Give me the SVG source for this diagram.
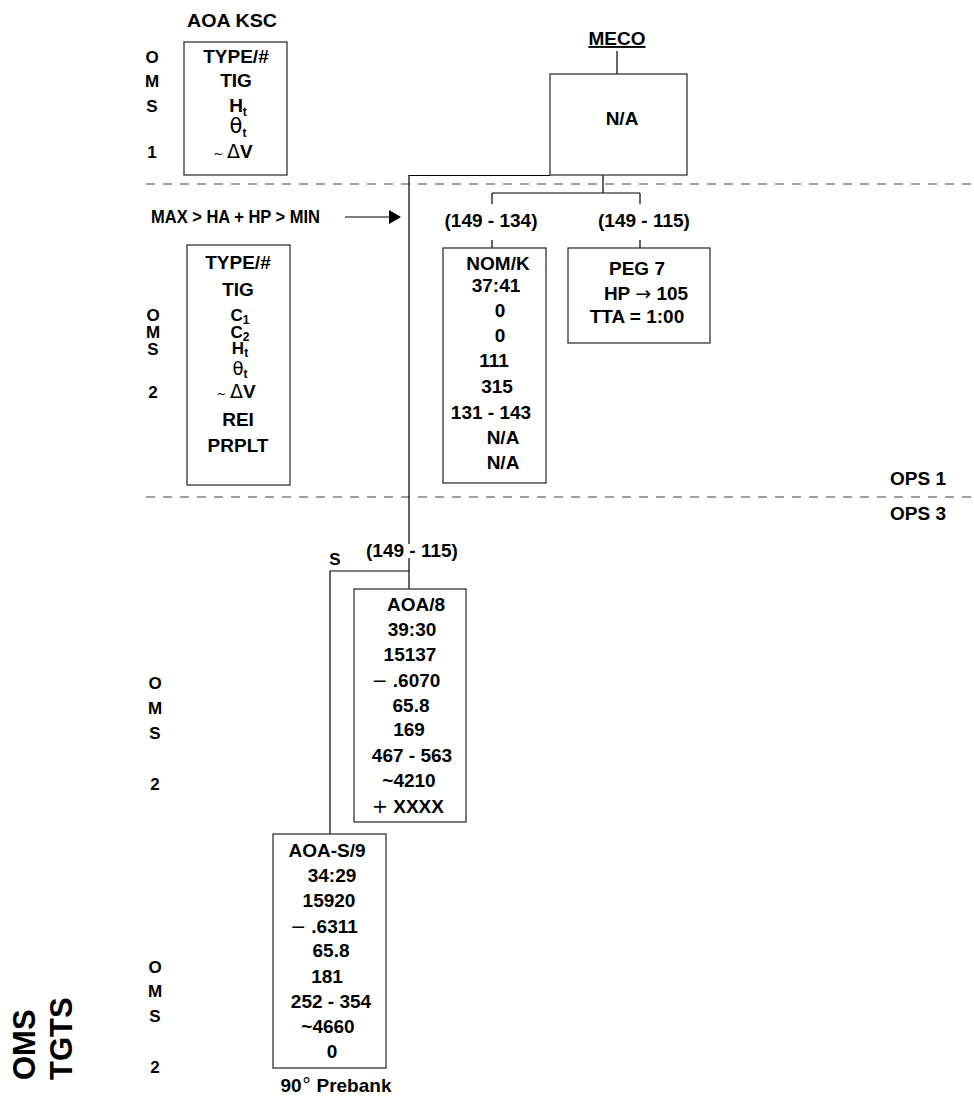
<svg xmlns="http://www.w3.org/2000/svg" width="974" height="1100" viewBox="0 0 974 1100">
<style>
text{font-family:"Liberation Sans",Arial,sans-serif;font-weight:bold;font-size:19px;fill:#000;text-anchor:middle}
.l{text-anchor:start}
.side{font-size:17px}
.tight{font-size:17px}
.box{fill:#fff;stroke:#333;stroke-width:1.3}
.con{fill:none;stroke:#000;stroke-width:1.2}
.dash{fill:none;stroke:#808080;stroke-width:1.5;stroke-dasharray:9 8}
.sym{font-weight:normal;font-family:"DejaVu Sans",sans-serif}
.sub{font-size:12px}
.big{font-size:31px}
</style>
<defs>
<marker id="ah" markerWidth="12" markerHeight="14" refX="11" refY="7" orient="auto" markerUnits="userSpaceOnUse">
<path d="M0,0 L12,7 L0,14 Z" fill="#000"/>
</marker>
</defs>

<g id="separators">
<line class="dash" x1="146" y1="184" x2="974" y2="184"/>
<line class="dash" x1="146" y1="497" x2="974" y2="497"/>
</g>

<g id="connectors">
<path class="con" d="M617,51 V74"/>
<path class="con" d="M550,175.5 H409 V544"/>
<path class="con" d="M603,175 V193 M492,193 H640 M492,193 V204 M640,193 V204 M492,240 V248 M640,240 V248"/>
<path class="con" d="M409,558 V589 M409,571 H330 V834"/>
<path class="con" d="M345,217 H400" marker-end="url(#ah)"/>
</g>

<g id="labels">
<text x="232" y="27" font-size="20" textLength="90" lengthAdjust="spacingAndGlyphs">AOA KSC</text>
<text x="617" y="45" text-decoration="underline">MECO</text>
<text class="l" x="151" y="223" textLength="169" lengthAdjust="spacingAndGlyphs">MAX &gt; HA + HP &gt; MIN</text>
<text x="491" y="227">(149 - 134)</text>
<text x="644" y="227">(149 - 115)</text>
<text x="412" y="557">(149 - 115)</text>
<text x="335" y="565" class="side">S</text>
<text class="l" x="890" y="485">OPS 1</text>
<text class="l" x="890" y="520">OPS 3</text>
<text x="336" y="1092">90<tspan class="sym">°</tspan> Prebank</text>
<text class="big l" transform="translate(35,1080) rotate(-90)">OMS</text>
<text class="big l" transform="translate(72,1080) rotate(-90)">TGTS</text>
</g>

<g id="side-oms1">
<text class="side" x="152" y="63">O</text>
<text class="side" x="152" y="87">M</text>
<text class="side" x="152" y="112">S</text>
<text class="side" x="152" y="158">1</text>
</g>
<g id="side-oms2a">
<text class="tight" x="153" y="321">O</text>
<text class="tight" x="153" y="338">M</text>
<text class="tight" x="153" y="355">S</text>
<text class="side" x="153" y="398">2</text>
</g>
<g id="side-oms2b">
<text class="side" x="155" y="689">O</text>
<text class="side" x="155" y="714">M</text>
<text class="side" x="155" y="739">S</text>
<text class="side" x="155" y="790">2</text>
</g>
<g id="side-oms2c">
<text class="side" x="155" y="973">O</text>
<text class="side" x="155" y="997">M</text>
<text class="side" x="155" y="1022">S</text>
<text class="side" x="155" y="1073">2</text>
</g>

<g id="node-aoa-ksc">
<rect class="box" x="184" y="42" width="103" height="133"/>
<text x="236" y="63">TYPE/#</text>
<text x="236" y="87">TIG</text>
<text x="238" y="112">H<tspan class="sub" dy="4">t</tspan></text>
<text x="238" y="133"><tspan class="sym" font-size="21">θ</tspan><tspan class="sub" dy="4">t</tspan></text>
<text x="233" y="158"><tspan class="sym" font-size="12">~ </tspan><tspan class="sym">Δ</tspan>V</text>
</g>

<g id="node-meco">
<rect class="box" x="550" y="74" width="137" height="101"/>
<text x="622" y="125">N/A</text>
</g>

<g id="node-oms2">
<rect class="box" x="187" y="245" width="103" height="240"/>
<text x="238" y="269">TYPE/#</text>
<text x="238" y="296">TIG</text>
<text class="tight" x="240" y="321">C<tspan class="sub" dy="3">1</tspan></text>
<text class="tight" x="240" y="338">C<tspan class="sub" dy="3">2</tspan></text>
<text class="tight" x="240" y="354">H<tspan class="sub" dy="3">t</tspan></text>
<text class="tight" x="240" y="375"><tspan class="sym" font-size="18">θ</tspan><tspan class="sub" dy="3">t</tspan></text>
<text x="236" y="398"><tspan class="sym" font-size="12">~ </tspan><tspan class="sym">Δ</tspan>V</text>
<text x="238" y="426">REI</text>
<text x="238" y="452">PRPLT</text>
</g>

<g id="node-nomk">
<rect class="box" x="443" y="248" width="103" height="235"/>
<text x="498" y="270">NOM/K</text>
<text x="496" y="292">37:41</text>
<text x="500" y="317">0</text>
<text x="500" y="342">0</text>
<text x="494" y="367">111</text>
<text x="497" y="393">315</text>
<text x="491" y="419">131 - 143</text>
<text x="503" y="444">N/A</text>
<text x="503" y="469">N/A</text>
</g>

<g id="node-peg7">
<rect class="box" x="568" y="248" width="142" height="95"/>
<text x="637" y="275">PEG 7</text>
<text x="646" y="300">HP <tspan class="sym">→</tspan> 105</text>
<text x="637" y="323">TTA = 1:00</text>
</g>

<g id="node-aoa8">
<rect class="box" x="354" y="589" width="112" height="233"/>
<text x="416" y="611">AOA/8</text>
<text x="412" y="636">39:30</text>
<text x="410" y="661">15137</text>
<text x="406" y="687"><tspan class="sym">−</tspan> .6070</text>
<text x="411" y="712">65.8</text>
<text x="409" y="736">169</text>
<text x="412" y="762">467 - 563</text>
<text x="409" y="787">~4210</text>
<text x="408" y="813"><tspan class="sym">+</tspan> XXXX</text>
</g>

<g id="node-aoas9">
<rect class="box" x="273" y="834" width="113" height="234"/>
<text x="327" y="857">AOA-S/9</text>
<text x="332" y="882">34:29</text>
<text x="329" y="907">15920</text>
<text x="324" y="933"><tspan class="sym">−</tspan> .6311</text>
<text x="331" y="957">65.8</text>
<text x="327" y="983">181</text>
<text x="331" y="1008">252 - 354</text>
<text x="328" y="1033">~4660</text>
<text x="332" y="1058">0</text>
</g>
</svg>
